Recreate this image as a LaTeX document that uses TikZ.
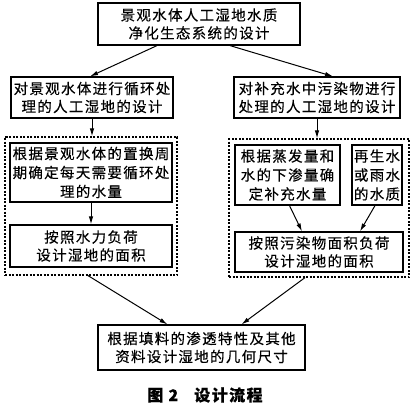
\documentclass[tikz,border=0pt]{standalone}
\usepackage{fontspec}
\usepackage{tikz}
\usetikzlibrary{arrows.meta}
\newfontfamily\cjk[LetterSpace=9,FakeBold=0.3]{Noto Sans CJK SC}
\tikzset{box/.style={draw,line width=1.2pt,align=center,inner sep=0pt,font=\cjk\fontsize{14.5}{18}\selectfont},
	tall/.style={font=\cjk\fontsize{14.5}{19}\selectfont},
	dotbox/.style={draw,line width=1.2pt,dash pattern=on 2pt off 1.5pt,inner sep=0pt},
	arr/.style={-{Latex[length=8pt,width=4.5pt]},line width=1pt}}

\begin{document}
\begin{tikzpicture}[x=1pt,y=-1pt]
			\useasboundingbox (0,0) rectangle (411,410);
			\node[box,minimum width=202pt,minimum height=42pt] (top) at (199,24) {景观水体人工湿地水质\\净化生态系统的设计};
			\node[box,minimum width=162pt,minimum height=41pt] (lbox) at (92,97.5) {对景观水体进行循环处\\理的人工湿地的设计};
			\node[box,minimum width=166pt,minimum height=41pt] (rbox) at (317,97.5) {对补充水中污染物进行\\处理的人工湿地的设计};

			\node[dotbox,minimum width=172pt,minimum height=138pt] (ldot) at (91,206) {};
			\node[box,tall,minimum width=162pt,minimum height=59pt] (lq) at (91,172.5) {根据景观水体的置换周\\期确定每天需要循环处\\理的水量};
			\node[box,minimum width=162pt,minimum height=42pt] (la) at (91,246) {按照水力负荷\\设计湿地的面积};

			\node[dotbox,minimum width=180pt,minimum height=138pt] (rdot) at (319,208) {};
			\node[box,tall,minimum width=105pt,minimum height=60pt] (rq) at (287.5,175) {根据蒸发量和\\水的下渗量确\\定补充水量};
			\node[box,tall,minimum width=50pt,minimum height=60pt] (rw) at (377,175) {再生水\\或雨水\\的水质};
			\node[box,minimum width=168pt,minimum height=40pt] (ra) at (319,252) {按照污染物面积负荷\\设计湿地的面积};

			\node[box,minimum width=207pt,minimum height=45pt] (final) at (201.5,347.5) {根据填料的渗透特性及其他\\资料设计湿地的几何尺寸};
			\node[font=\cjk\bfseries\fontsize{16}{18}\selectfont] (cap) at (205,395) {图 2\quad 设计流程};

			\draw[arr] ([xshift=-42pt]top.south) -- ([xshift=-2pt]lbox.north);
			\draw[arr] ([xshift=31pt]top.south) -- ([xshift=16pt]rbox.north);
			\draw[arr] (lbox.south) -- (lbox.south |- ldot.north);
			\draw[arr] (rbox.south) -- (rbox.south |- rdot.north);
			\draw[arr] (lq) -- (la);
			\draw[arr] ([xshift=2pt]rq.south) -- ([xshift=-17pt]ra.north);
			\draw[arr] ([xshift=-2pt]rw.south) -- ([xshift=41pt]ra.north);
			\draw[arr] ([xshift=-3pt]ldot.south) -- ([xshift=-34pt]final.north);
			\draw[arr] ([xshift=-14pt]rdot.south) -- ([xshift=40pt]final.north);
		\end{tikzpicture}
\end{document}
